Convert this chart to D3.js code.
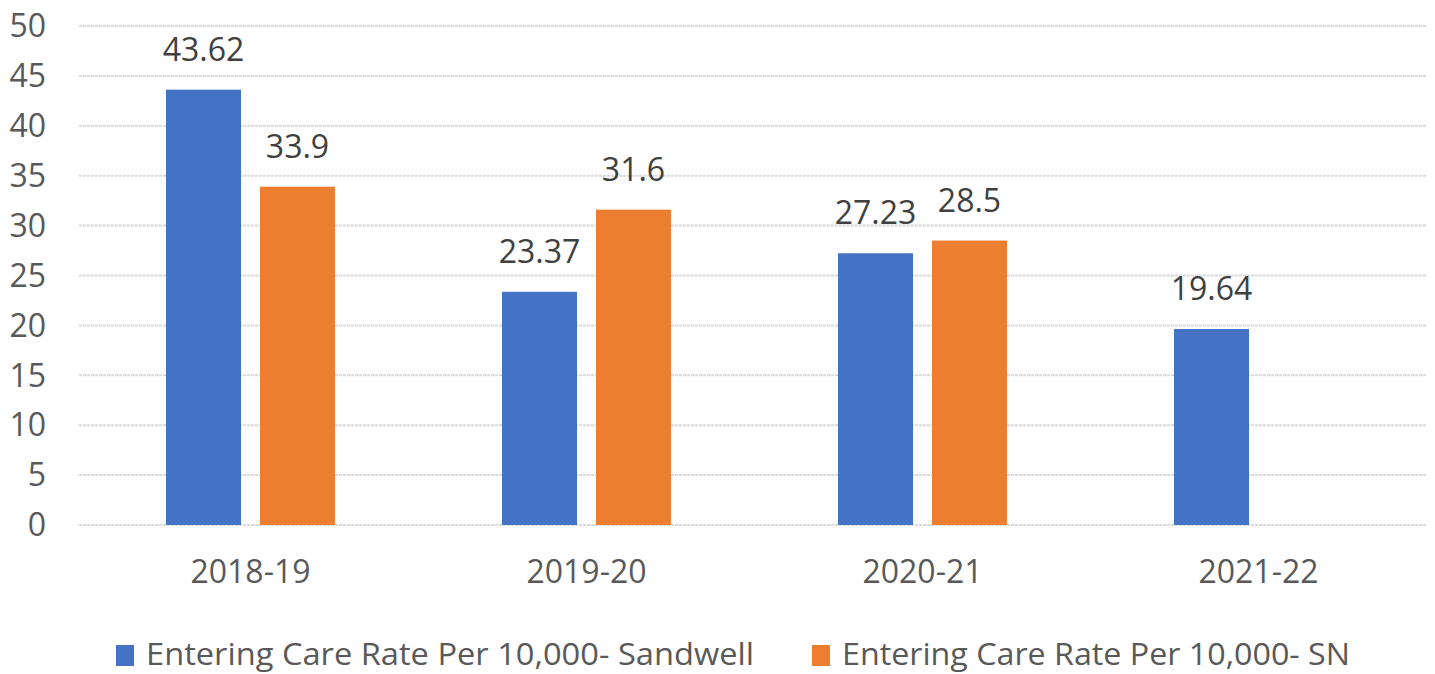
<!DOCTYPE html>
<html><head><meta charset="utf-8">
<script src="https://cdn.jsdelivr.net/npm/d3@7"></script>
<style>html,body{margin:0;padding:0;background:#fff;overflow:hidden}</style>
</head><body>
<script>
const categories = ["2018-19", "2019-20", "2020-21", "2021-22"];
const seriesNames = ["Entering Care Rate Per 10,000- Sandwell", "Entering Care Rate Per 10,000- SN"];
const sandwell = [43.62, 23.37, 27.23, 19.64];
const sn = [33.9, 31.6, 28.5, null];
const yTicks = [0, 5, 10, 15, 20, 25, 30, 35, 40, 45, 50];
const colors = ["#4472C4", "#ED7D31"];

(function () {
const W = 1435, H = 674;
const gLeft = 79, gRight = 1427, mTop = 26, mBottom = 525;
const font = "'Open Sans', sans-serif";

const svg = d3.select("body").append("svg").attr("width", W).attr("height", H);

const y = d3.scaleLinear().domain([0, 50]).range([mBottom, mTop]);
const x0 = d3.scaleBand().domain(categories).range([82.5, 1426.5]).paddingInner(0.497).paddingOuter(0.2485);
const x1 = d3.scaleBand().domain([0, 1]).range([0, x0.bandwidth()]).paddingInner(0.202);

// gridlines
svg.append("g").selectAll("line").data(yTicks).join("line")
  .attr("x1", gLeft).attr("x2", gRight)
  .attr("y1", d => y(d)).attr("y2", d => y(d))
  .attr("stroke", "#d9d9d9").attr("stroke-width", 2).attr("stroke-dasharray", "3,1");

// y labels
svg.append("g").selectAll("text").data(yTicks).join("text")
  .attr("x", 46).attr("y", d => y(d)).attr("dy", "0.35em")
  .attr("text-anchor", "end").attr("font-family", font).attr("font-size", 32)
  .attr("fill", "#595959").text(d => d);

const series = [sandwell, sn];
const g = svg.append("g");
series.forEach((vals, si) => {
  const data = categories.map((c, i) => ({c, v: vals[i]})).filter(d => d.v != null);
  g.append("g").selectAll("rect").data(data).join("rect")
    .attr("x", d => x0(d.c) + x1(si)).attr("width", x1.bandwidth())
    .attr("y", d => y(d.v)).attr("height", d => y(0) - y(d.v))
    .attr("fill", colors[si]);
  g.append("g").selectAll("text").data(data).join("text")
    .attr("x", d => x0(d.c) + x1(si) + x1.bandwidth() / 2)
    .attr("y", d => y(d.v) - 29)
    .attr("text-anchor", "middle").attr("font-family", font).attr("font-size", 32)
    .attr("fill", "#404040").text(d => d.v);
});

// x labels
svg.append("g").selectAll("text").data(categories).join("text")
  .attr("x", d => x0(d) + x0.bandwidth() / 2).attr("y", 583)
  .attr("text-anchor", "middle").attr("font-family", font).attr("font-size", 32)
  .attr("fill", "#595959").text(d => d);

// legend
const legX = [116, 812];
const legLen = [608, 508];
const lg = svg.append("g");
seriesNames.forEach((n, i) => {
  lg.append("rect").attr("x", legX[i]).attr("y", 645).attr("width", 18).attr("height", 21).attr("fill", colors[i]);
  lg.append("text").attr("x", legX[i] + 30).attr("y", 665)
    .attr("font-family", font).attr("font-size", 31).attr("fill", "#595959")
    .attr("textLength", legLen[i]).attr("lengthAdjust", "spacingAndGlyphs").text(n);
});
})();
</script>
</body></html>
